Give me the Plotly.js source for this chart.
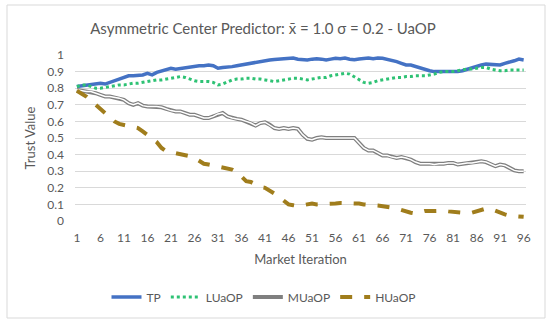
<!DOCTYPE html>
<html>
<head>
<meta charset="utf-8">
<script src="https://cdn.plot.ly/plotly-3.0.1.min.js"></script>
<style>html,body{margin:0;padding:0;background:#fff;}#chart{width:550px;height:324px;}</style>
</head>
<body>
<div id="chart"></div>
<script>
const iterations = Array.from({length: 96}, (_, i) => i + 1);
const tickVals = [1,6,11,16,21,26,31,36,41,46,51,56,61,66,71,76,81,86,91,96];

const tp = [0.81,0.815,0.82,0.82,0.825,0.83,0.825,0.835,0.845,0.86,0.87,0.875,0.875,0.875,0.88,0.89,0.88,0.895,0.905,0.915,
0.92,0.915,0.92,0.925,0.925,0.93,0.935,0.935,0.94,0.935,0.92,0.925,0.925,0.93,0.935,0.94,0.945,0.955,0.96,0.963,
0.966,0.97,0.973,0.975,0.977,0.98,0.982,0.975,0.97,0.97,0.975,0.978,0.975,0.97,0.975,0.98,0.978,0.982,0.975,0.972,
0.976,0.98,0.982,0.978,0.982,0.98,0.975,0.97,0.96,0.95,0.94,0.94,0.93,0.92,0.91,0.905,0.9,0.9,0.895,0.9,
0.895,0.9,0.905,0.915,0.925,0.93,0.94,0.945,0.945,0.945,0.94,0.95,0.955,0.965,0.975,0.97];

const luaop = [0.81,0.82,0.82,0.81,0.80,0.80,0.805,0.81,0.815,0.82,0.82,0.825,0.83,0.83,0.835,0.84,0.845,0.85,0.85,0.855,
0.86,0.865,0.87,0.865,0.855,0.845,0.84,0.84,0.84,0.835,0.82,0.825,0.84,0.85,0.855,0.855,0.86,0.86,0.855,0.855,
0.85,0.845,0.84,0.845,0.85,0.855,0.86,0.86,0.855,0.85,0.855,0.86,0.865,0.865,0.875,0.88,0.885,0.89,0.885,0.87,
0.855,0.835,0.83,0.835,0.845,0.85,0.855,0.86,0.865,0.865,0.87,0.87,0.875,0.875,0.875,0.88,0.885,0.895,0.9,0.9,
0.9,0.905,0.91,0.915,0.915,0.92,0.925,0.925,0.915,0.91,0.905,0.905,0.91,0.91,0.91,0.91];

const muaop = [0.79,0.785,0.78,0.78,0.77,0.76,0.75,0.75,0.745,0.74,0.73,0.71,0.70,0.71,0.695,0.69,0.69,0.69,0.685,0.675,
0.665,0.66,0.66,0.65,0.64,0.64,0.63,0.62,0.62,0.63,0.645,0.65,0.63,0.62,0.615,0.61,0.6,0.59,0.575,0.59,
0.595,0.58,0.56,0.555,0.56,0.555,0.56,0.555,0.52,0.495,0.49,0.5,0.505,0.5,0.5,0.5,0.5,0.5,0.5,0.5,
0.47,0.44,0.425,0.425,0.41,0.395,0.395,0.385,0.38,0.385,0.38,0.37,0.355,0.345,0.345,0.345,0.34,0.345,0.345,0.35,
0.35,0.34,0.345,0.35,0.35,0.355,0.36,0.355,0.34,0.33,0.34,0.335,0.32,0.305,0.3,0.3];

const huaop = [0.785,0.77,0.75,0.725,0.70,0.67,0.645,0.625,0.6,0.585,0.58,0.575,0.565,0.56,0.54,0.52,0.50,0.475,0.44,0.42,
0.415,0.41,0.405,0.395,0.39,0.38,0.36,0.345,0.34,0.335,0.33,0.325,0.32,0.31,0.295,0.265,0.24,0.235,0.22,0.205,
0.2,0.185,0.165,0.145,0.12,0.1,0.095,0.09,0.095,0.1,0.105,0.1,0.1,0.1,0.102,0.105,0.108,0.108,0.105,0.105,
0.105,0.1,0.1,0.095,0.093,0.09,0.088,0.08,0.075,0.065,0.055,0.05,0.045,0.055,0.06,0.06,0.062,0.063,0.062,0.058,
0.055,0.055,0.05,0.048,0.05,0.058,0.065,0.075,0.072,0.06,0.05,0.04,0.032,0.03,0.028,0.025];

const FONT = 'Lato, "Open Sans", sans-serif';
const TXT = '#595959';

const traces = [
  {x: iterations, y: tp, name: 'TP', mode: 'lines', line: {color: '#4472C4', width: 3.5}},
  {x: iterations, y: luaop, name: 'LUaOP', mode: 'lines', line: {color: '#2EC274', width: 3, dash: 'dot'}},
  {x: iterations, y: muaop, name: 'MUaOP', mode: 'lines', line: {color: '#7F7F7F', width: 4}, legendgroup: 'm'},
  {x: iterations, y: muaop, name: 'MUaOP', mode: 'lines', line: {color: '#FFFFFF', width: 1.5}, legendgroup: 'm', showlegend: false, hoverinfo: 'skip'},
  {x: iterations, y: huaop, name: 'HUaOP', mode: 'lines', line: {color: '#A07D1C', width: 4, dash: 'dash'}}
];

const layout = {
  width: 550, height: 324,
  margin: {l: 75, r: 24, t: 55, b: 103},
  paper_bgcolor: '#fff', plot_bgcolor: '#fff',
  font: {family: FONT, color: TXT, size: 12},
  title: {text: 'Asymmetric Center Predictor: x\u0304 = 1.0 \u03c3 = 0.2 - UaOP', font: {family: FONT, size: 15, color: TXT},
          x: 263/550, xanchor: 'center', xref: 'container', y: 1 - 29/324, yanchor: 'middle', yref: 'container'},
  xaxis: {range: [0.6, 96.5], tickvals: tickVals, ticktext: tickVals.map(String), showgrid: false, zeroline: false,
          showline: false, ticks: '', ticklabelstandoff: 8, tickfont: {size: 12, color: TXT},
          title: {text: 'Market Iteration', font: {size: 13, color: TXT}, standoff: 10}},
  yaxis: {range: [0, 1.0], dtick: 0.1, tick0: 0, showgrid: true, gridcolor: '#D9D9D9', gridwidth: 1, zeroline: false,
          showline: false, ticks: '', ticklabelstandoff: 10, tickfont: {size: 12, color: TXT},
          title: {text: 'Trust Value', font: {size: 13, color: TXT}, standoff: 8}},
  legend: {orientation: 'h', xref: 'container', yref: 'container', x: 0.48, xanchor: 'center', y: 27/324, yanchor: 'middle',
           font: {size: 12, color: TXT}, itemwidth: 30},
  shapes: [{type: 'rect', xref: 'paper', yref: 'paper', x0: (7-75)/451, x1: (545-75)/451, y0: (221-318)/166, y1: (221-5)/166,
            line: {color: '#D9D9D9', width: 1}, fillcolor: 'rgba(0,0,0,0)', layer: 'below'}],
  showlegend: true
};

Plotly.newPlot('chart', traces, layout, {displayModeBar: false, staticPlot: true});
</script>
</body>
</html>
